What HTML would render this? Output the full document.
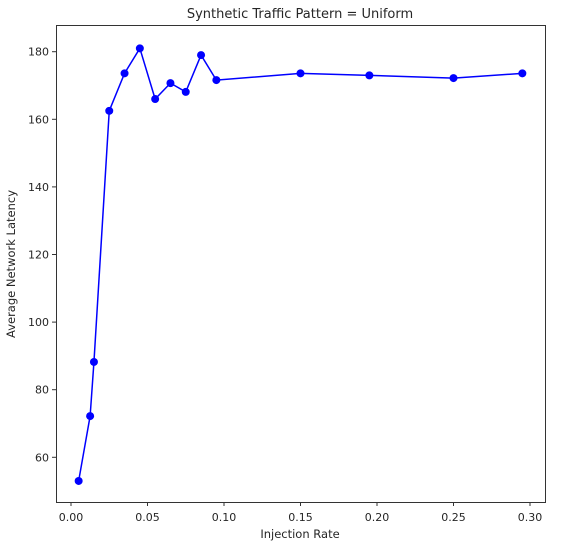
<!DOCTYPE html>
<html><head><meta charset="utf-8"><style>
body{margin:0;background:#fff;}
svg text{font-family:"DejaVu Sans","Liberation Sans",sans-serif;fill:#262626;}
</style></head><body>
<svg id="chart" width="577" height="547" xmlns="http://www.w3.org/2000/svg">
<rect x="0" y="0" width="577" height="547" fill="#fff"/>
<text x="300" y="18" font-size="13" text-anchor="middle">Synthetic Traffic Pattern = Uniform</text>
<g id="xticks"></g>
<g id="yticks"></g>
<text x="300" y="538" font-size="11.5" text-anchor="middle">Injection Rate</text>
<text transform="translate(15,264) rotate(-90)" font-size="11.5" text-anchor="middle">Average Network Latency</text>
<g id="series"></g>
<rect x="56.5" y="25.5" width="489" height="477" fill="none" stroke="#333" stroke-width="1"/>
</svg>
<script>
const injectionRates=[0.005,0.0125,0.015,0.025,0.035,0.045,0.055,0.065,0.075,0.085,0.095,0.15,0.195,0.25,0.295];
const latencies=[53,72.2,88.2,162.5,173.6,181,166,170.7,168.1,179,171.6,173.6,173,172.2,173.6];
const xTickValues=[0,0.05,0.1,0.15,0.2,0.25,0.3];
const xTickLabels=["0.00","0.05","0.10","0.15","0.20","0.25","0.30"];
const yTickValues=[60,80,100,120,140,160,180];
const yTickLabels=["60","80","100","120","140","160","180"];
const NS="http://www.w3.org/2000/svg";
const xs=v=>71+v*1530;
const ys=v=>457.3-(v-60)*3.38;
function mk(tag,attrs,parent){const e=document.createElementNS(NS,tag);for(const k in attrs)e.setAttribute(k,attrs[k]);parent.appendChild(e);return e;}
const xg=document.getElementById('xticks'),yg=document.getElementById('yticks'),sg=document.getElementById('series');
xTickValues.forEach((v,i)=>{
  const t=mk('line',{x1:xs(v),x2:xs(v),y1:502,y2:506,stroke:'#333'},xg);
  
  
  const l=mk('text',{x:xs(v),y:521,'font-size':'11','text-anchor':'middle'},xg);
  l.textContent=xTickLabels[i];
  
  
});
yTickValues.forEach((v,i)=>{
  const t=mk('line',{x1:52,x2:56,y1:ys(v),y2:ys(v),stroke:'#333'},yg);
  
  
  const l=mk('text',{x:49,y:ys(v)+4,'font-size':'11','text-anchor':'end'},yg);
  l.textContent=yTickLabels[i];
  
  
});
const pts=injectionRates.map((r,i)=>xs(r)+','+ys(latencies[i])).join(' ');
const pl=mk('polyline',{points:pts,fill:'none',stroke:'#0000ff','stroke-width':1.5},sg);


injectionRates.forEach((r,i)=>{
  const c=mk('circle',{cx:xs(r),cy:ys(latencies[i]),r:4,fill:'#0000ff'},sg);
  
  
});
</script>
</body></html>
